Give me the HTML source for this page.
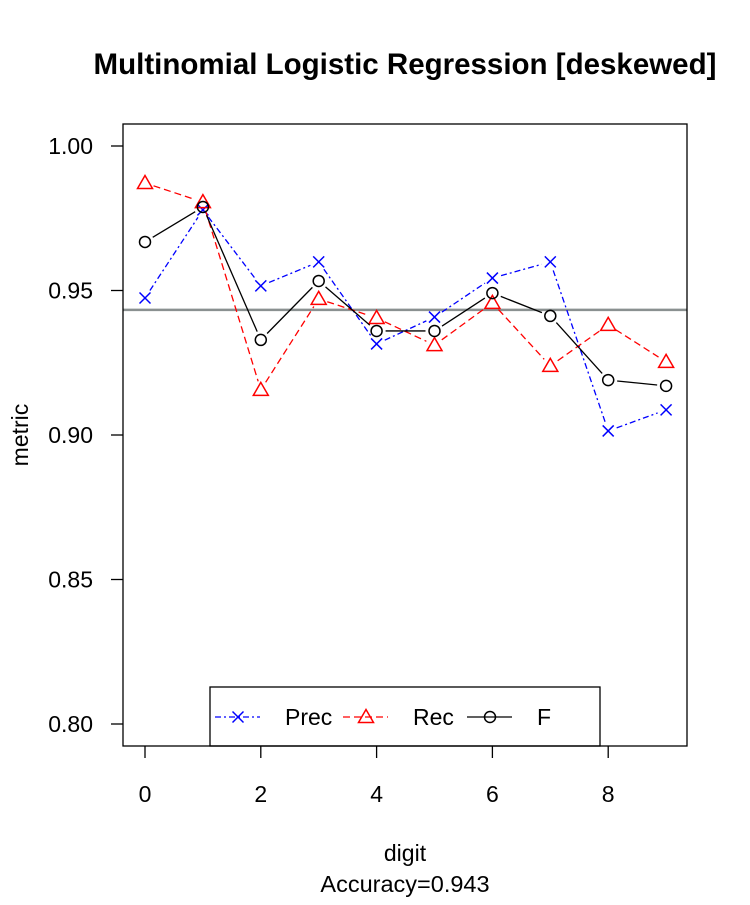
<!DOCTYPE html>
<html><head><meta charset="utf-8"><style>
body{margin:0;background:#fff}
text{font-family:"Liberation Sans",Arial,sans-serif}
</style></head><body>
<svg id="chart" width="750" height="900" xmlns="http://www.w3.org/2000/svg">
<text x="405" y="74" text-anchor="middle" font-size="29.5" font-weight="bold">Multinomial Logistic Regression [deskewed]</text>
<text transform="translate(28,435) rotate(-90)" text-anchor="middle" font-size="23">metric</text>
<text x="405" y="861" text-anchor="middle" font-size="23">digit</text>
<text x="405" y="892" text-anchor="middle" font-size="23.5">Accuracy=0.943</text>
<g id="axes"></g>
<g id="marks"></g>
<rect x="123" y="124" width="564" height="622" fill="none" stroke="#000" stroke-width="1.3"/>
</svg>
<script>
const digits=[0,1,2,3,4,5,6,7,8,9];
const prec=[0.9474,0.9779,0.9516,0.9599,0.9315,0.9408,0.9543,0.9599,0.9014,0.9087];
const rec=[0.9872,0.9806,0.9156,0.9471,0.9405,0.9311,0.9457,0.9239,0.9381,0.9253];
const fval=[0.9668,0.9789,0.9329,0.9533,0.9360,0.9360,0.9491,0.9412,0.9190,0.9170];
const accuracy=0.9433;
const yTicks=[0.80,0.85,0.90,0.95,1.00];
const yTickLabels=["0.80","0.85","0.90","0.95","1.00"];
const xTicks=[0,2,4,6,8];
const NS="http://www.w3.org/2000/svg";
const X=d=>145+d*57.9;
const Y=v=>724-(v-0.80)/0.20*578;
function mk(tag,attrs,parent){const e=document.createElementNS(NS,tag);for(const k in attrs)e.setAttribute(k,attrs[k]);parent.appendChild(e);return e;}
const axes=document.getElementById('axes'),marks=document.getElementById('marks');
yTicks.forEach((t,i)=>{
 const l=mk('line',{x1:123,x2:111,y1:Y(t),y2:Y(t),stroke:'#000','stroke-width':1.3},axes);
 
 
 const tx=mk('text',{x:93,y:Y(t)+8,'text-anchor':'end','font-size':23},axes);
 
 
 tx.textContent=yTickLabels[i];
});
xTicks.forEach(t=>{
 const l=mk('line',{x1:X(t),x2:X(t),y1:746,y2:758,stroke:'#000','stroke-width':1.3},axes);
 
 
 const tx=mk('text',{x:X(t),y:802,'text-anchor':'middle','font-size':23},axes);
 
 
 tx.textContent=t;
});
const acc=mk('line',{x1:123,x2:687,y1:Y(accuracy),y2:Y(accuracy),stroke:'#8a9090','stroke-width':2.5},marks);


function cross(x,y,c,p){const g=mk('g',{stroke:c,'stroke-width':1.5},p);mk('line',{x1:x-5.5,y1:y-5.5,x2:x+5.5,y2:y+5.5},g);mk('line',{x1:x-5.5,y1:y+5.5,x2:x+5.5,y2:y-5.5},g);return g;}
function tri(x,y,c,p){return mk('polygon',{points:`${x},${y-7.5} ${x-7.5},${y+5.5} ${x+7.5},${y+5.5}`,fill:'none',stroke:c,'stroke-width':1.5},p);}
function circ(x,y,c,p){return mk('circle',{cx:x,cy:y,r:5.5,fill:'none',stroke:c,'stroke-width':1.5},p);}
function series(vals,color,dash,sym,name){
 const g=mk('g',{},marks);
 
 
 for(let i=0;i<vals.length-1;i++){
  const x1=X(digits[i]),y1=Y(vals[i]),x2=X(digits[i+1]),y2=Y(vals[i+1]);
  const dx=x2-x1,dy=y2-y1,L=Math.hypot(dx,dy),s=9/L;
  if(L>18){const seg=mk('line',{x1:x1+dx*s,y1:y1+dy*s,x2:x2-dx*s,y2:y2-dy*s,stroke:color,'stroke-width':1.3,'stroke-dasharray':dash},g);
  
  }
 }
 vals.forEach((v,i)=>{const m=sym(X(digits[i]),Y(v),color,g);
  
  });
}
series(prec,'#0000ff','6 3 2 3',cross,'prec');
series(rec,'#ff0000','7 4',tri,'rec');
series(fval,'#000','none',circ,'f');
const lg=mk('g',{},marks);


mk('rect',{x:210,y:687,width:390,height:59,fill:'#fff',stroke:'#000','stroke-width':1.3},lg);
const items=[['Prec','#0000ff','6 3 2 3',cross,215],['Rec','#ff0000','7 4',tri,343],['F','#000','none',circ,467]];
items.forEach(it=>{
 const e=mk('g',{},lg);
 
 
 mk('line',{x1:it[4],x2:it[4]+45,y1:717,y2:717,stroke:it[1],'stroke-width':1.3,'stroke-dasharray':it[2]},e);
 it[3](it[4]+23,717,it[1],e);
 const t=mk('text',{x:it[4]+70,y:725,'font-size':23},e);
 t.textContent=it[0];
});
</script>
</body></html>
